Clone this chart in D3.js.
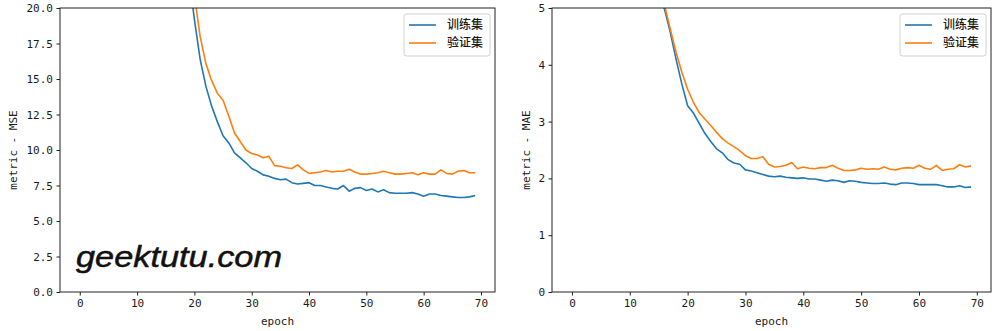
<!DOCTYPE html>
<html>
<head>
<meta charset="utf-8">
<script src="https://cdn.jsdelivr.net/npm/d3@7"></script>
<style>
    body { margin: 0; background: #fff; }
    .tick text { font-family: "DejaVu Sans Mono", monospace; font-size: 11px; fill: #1a1a1a; }
    .axisLabel { font-family: "DejaVu Sans Mono", monospace; font-size: 11px; fill: #1a1a1a; }
    .legendLabel { font-family: "Noto Sans CJK SC", sans-serif; font-size: 12px; font-weight: 500; fill: #1a1a1a; }
</style>
</head>
<body>
<svg id="chart" width="1000" height="331"></svg>
<script>
var epochs = d3.range(0, 70);

// MSE per epoch (values before epoch 20 sit above the visible range)
var mseTrain = [560, 520, 470, 410, 340, 270, 200, 140, 95, 68,
    52, 43, 37, 33, 30, 28, 26.5, 25, 23.8, 22.4,
    19.2, 16.4, 14.5, 13.1, 12.0, 11.0, 10.5, 9.8, 9.45, 9.1,
    8.7, 8.5, 8.25, 8.15, 8.0, 7.9, 7.95, 7.7, 7.6, 7.65,
    7.7, 7.5, 7.5, 7.4, 7.3, 7.25, 7.5, 7.1, 7.3, 7.35,
    7.15, 7.25, 7.05, 7.2, 7.0, 6.95, 6.95, 6.95, 7.0, 6.9,
    6.75, 6.9, 6.9, 6.8, 6.75, 6.7, 6.65, 6.65, 6.7, 6.8];
var mseVal = [590, 550, 500, 440, 370, 300, 230, 165, 115, 80,
    60, 48, 41, 36, 32, 29.5, 27.5, 25.5, 23.8, 22.3,
    20.9, 18.0, 16.1, 14.9, 14.0, 13.5, 12.4, 11.2, 10.6, 10.0,
    9.75, 9.65, 9.45, 9.55, 8.9, 8.85, 8.75, 8.7, 8.95, 8.6,
    8.35, 8.4, 8.45, 8.55, 8.45, 8.5, 8.5, 8.65, 8.45, 8.3,
    8.3, 8.35, 8.4, 8.5, 8.4, 8.3, 8.3, 8.35, 8.4, 8.25,
    8.4, 8.3, 8.3, 8.6, 8.35, 8.3, 8.5, 8.55, 8.4, 8.4];

// MAE per epoch
var maeTrain = [22, 21.5, 20.8, 20, 19, 17.8, 16.3, 14.6, 12.7, 10.8,
    9.0, 7.6, 6.6, 6.0, 5.55, 5.18, 4.98, 4.57, 4.1, 3.66,
    3.28, 3.15, 2.97, 2.79, 2.65, 2.52, 2.45, 2.33, 2.27, 2.25,
    2.15, 2.13, 2.1, 2.07, 2.04, 2.03, 2.04, 2.02, 2.01, 2.0,
    2.01, 1.99, 1.99, 1.97, 1.95, 1.97, 1.96, 1.93, 1.96, 1.95,
    1.93, 1.92, 1.91, 1.91, 1.92, 1.9, 1.89, 1.92, 1.92, 1.91,
    1.89, 1.89, 1.89, 1.89, 1.87, 1.85, 1.85, 1.87, 1.84, 1.85];
var maeVal = [22.5, 22, 21.3, 20.5, 19.5, 18.3, 16.8, 15.1, 13.2, 11.3,
    9.5, 8.1, 7.0, 6.3, 5.8, 5.45, 5.05, 4.63, 4.22, 3.87,
    3.57, 3.34, 3.16, 3.04, 2.93, 2.81, 2.7, 2.62, 2.56, 2.49,
    2.4, 2.35, 2.35, 2.38, 2.25, 2.2, 2.21, 2.23, 2.28, 2.17,
    2.2, 2.18, 2.17, 2.19, 2.19, 2.23, 2.18, 2.14, 2.14, 2.15,
    2.18, 2.16, 2.17, 2.16, 2.2, 2.16, 2.15, 2.18, 2.19, 2.18,
    2.23, 2.18, 2.16, 2.23, 2.14, 2.16, 2.17, 2.24, 2.2, 2.22];

var seriesNames = ["训练集", "验证集"];
var seriesColors = ["#1f77b4", "#ff7f0e"];
var xTicks = [0, 10, 20, 30, 40, 50, 60, 70];
var mseTicks = [0, 2.5, 5, 7.5, 10, 12.5, 15, 17.5, 20];
var maeTicks = [0, 1, 2, 3, 4, 5];

var svg = d3.select("#chart");

function drawPanel(opts) {
    var g = svg.append("g");

    var xScale = d3.scaleLinear()
        .domain([-3.45, 72.45])
        .range([opts.left, opts.right]);

    var yScale = d3.scaleLinear()
        .domain([0, opts.yMax])
        .range([opts.bottom, opts.top]);

    g.append("clipPath")
        .attr("id", opts.id + "-clip")
        .append("rect")
        .attr("x", opts.left)
        .attr("y", opts.top)
        .attr("width", opts.right - opts.left)
        .attr("height", opts.bottom - opts.top);

    var line = d3.line()
        .x(function(d) { return xScale(d[0]); })
        .y(function(d) { return yScale(d[1]); });

    [opts.train, opts.val].forEach(function(values, i) {
        g.append("path")
            .datum(epochs.map(function(e, j) { return [e, values[j]]; }))
            .attr("clip-path", "url(#" + opts.id + "-clip)")
            .attr("d", line)
            .attr("fill", "none")
            .attr("stroke", seriesColors[i])
            .attr("stroke-width", 1.6)
            .attr("stroke-linejoin", "round");
    });

    // axes
    g.append("g")
        .attr("transform", "translate(0," + opts.bottom + ")")
        .call(d3.axisBottom(xScale).tickValues(xTicks).tickSize(3.5).tickPadding(3.5).tickFormat(d3.format("d")))
        .call(function(a) { a.select(".domain").remove(); });

    g.append("g")
        .attr("transform", "translate(" + opts.left + ",0)")
        .call(d3.axisLeft(yScale).tickValues(opts.yTicks).tickSize(3.5).tickPadding(3.5).tickFormat(opts.yFormat))
        .call(function(a) { a.select(".domain").remove(); });

    g.selectAll(".tick line").attr("stroke", "#222");

    // frame
    g.append("rect")
        .attr("x", opts.left)
        .attr("y", opts.top)
        .attr("width", opts.right - opts.left)
        .attr("height", opts.bottom - opts.top)
        .attr("fill", "none")
        .attr("stroke", "#222")
        .attr("stroke-width", 1);

    g.append("text")
        .attr("class", "axisLabel")
        .attr("x", (opts.left + opts.right) / 2)
        .attr("y", 325)
        .attr("text-anchor", "middle")
        .text("epoch");

    g.append("text")
        .attr("class", "axisLabel")
        .attr("transform", "translate(" + opts.yLabelX + "," + ((opts.top + opts.bottom) / 2) + ") rotate(-90)")
        .attr("text-anchor", "middle")
        .attr("dy", "0.35em")
        .text(opts.yLabel);

    // legend
    var legend = g.append("g")
        .attr("transform", "translate(" + (opts.right - 91) + "," + (opts.top + 6) + ")");

    legend.append("rect")
        .attr("width", 86)
        .attr("height", 42)
        .attr("rx", 2.5)
        .attr("fill", "#fff")
        .attr("fill-opacity", 0.8)
        .attr("stroke", "#d0d0d0");

    seriesNames.forEach(function(name, i) {
        legend.append("line")
            .attr("x1", 5)
            .attr("x2", 32)
            .attr("y1", 11 + i * 18)
            .attr("y2", 11 + i * 18)
            .attr("stroke", seriesColors[i])
            .attr("stroke-width", 1.6);
        legend.append("text")
            .attr("class", "legendLabel")
            .attr("x", 43)
            .attr("y", 11 + i * 18)
            .attr("dy", "0.36em")
            .text(name);
    });
}

drawPanel({
    id: "mse", left: 60, right: 495, top: 8, bottom: 292,
    yMax: 20, yTicks: mseTicks, yFormat: d3.format(".1f"),
    train: mseTrain, val: mseVal, yLabel: "metric - MSE", yLabelX: 13
});

drawPanel({
    id: "mae", left: 552, right: 991, top: 8, bottom: 292,
    yMax: 5, yTicks: maeTicks, yFormat: d3.format("d"),
    train: maeTrain, val: maeVal, yLabel: "metric - MAE", yLabelX: 526
});

// watermark
svg.append("text")
    .attr("x", 76)
    .attr("y", 267)
    .attr("textLength", 206)
    .attr("lengthAdjust", "spacingAndGlyphs")
    .style("font-family", "'Liberation Sans', Arial, sans-serif")
    .style("font-style", "italic")
    .style("font-size", "30px")
    .style("fill", "#111")
    .style("stroke", "#111")
    .style("stroke-width", 0.5)
    .text("geektutu.com");
</script>
</body>
</html>
